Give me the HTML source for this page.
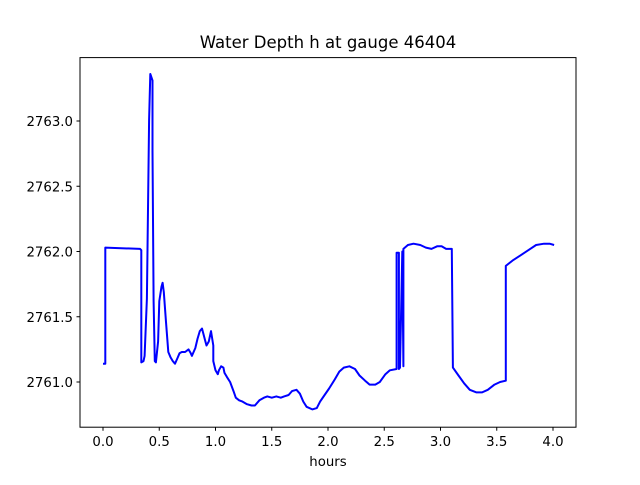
<!DOCTYPE html>
<html><head><meta charset="utf-8"><style>
body{margin:0;background:#fff}
text{font-family:"DejaVu Sans","Liberation Sans",sans-serif;fill:#000}
</style></head><body>
<svg id="chart" width="640" height="480" xmlns="http://www.w3.org/2000/svg">
<rect width="640" height="480" fill="#fff"/>
<text x="328" y="48" font-size="16.5" text-anchor="middle">Water Depth h at gauge 46404</text>
<g id="ticks"></g>
<polyline id="series" fill="none" stroke="#0000ff" stroke-width="2" stroke-linejoin="round"/>
<rect x="80" y="57.6" width="496" height="369.6" fill="none" stroke="#000" stroke-width="1"/>
<text x="328" y="466" font-size="13.3" text-anchor="middle">hours</text>
</svg>
<script>
const xTicks=[0.0,0.5,1.0,1.5,2.0,2.5,3.0,3.5,4.0];
const xTickLabels=["0.0","0.5","1.0","1.5","2.0","2.5","3.0","3.5","4.0"];
const yTicks=[2761.0,2761.5,2762.0,2762.5,2763.0];
const yTickLabels=["2761.0","2761.5","2762.0","2762.5","2763.0"];
const hours=[0.00,0.02,0.02,0.33,0.34,0.34,0.36,0.37,0.39,0.41,0.42,0.44,0.44,0.45,0.46,0.47,0.49,0.50,0.52,0.53,0.54,0.56,0.58,0.60,0.62,0.64,0.66,0.68,0.70,0.73,0.76,0.78,0.79,0.82,0.84,0.86,0.88,0.91,0.92,0.94,0.96,0.98,0.98,1.00,1.02,1.03,1.05,1.07,1.08,1.10,1.13,1.16,1.18,1.21,1.24,1.28,1.32,1.35,1.39,1.43,1.46,1.50,1.54,1.58,1.61,1.65,1.68,1.72,1.75,1.78,1.81,1.86,1.90,1.93,1.97,2.01,2.06,2.10,2.14,2.19,2.24,2.28,2.33,2.37,2.42,2.46,2.51,2.55,2.61,2.61,2.63,2.63,2.64,2.66,2.66,2.67,2.67,2.71,2.76,2.82,2.87,2.92,2.97,3.01,3.05,3.10,3.11,3.11,3.16,3.21,3.26,3.32,3.37,3.42,3.48,3.53,3.58,3.58,3.64,3.71,3.78,3.85,3.92,3.97,4.01];
const depth=[2761.14,2761.14,2762.03,2762.02,2762.01,2761.15,2761.16,2761.20,2761.64,2763.01,2763.36,2763.31,2762.77,2761.62,2761.16,2761.15,2761.31,2761.62,2761.73,2761.76,2761.69,2761.46,2761.23,2761.19,2761.16,2761.14,2761.18,2761.22,2761.23,2761.23,2761.25,2761.22,2761.20,2761.26,2761.33,2761.39,2761.41,2761.31,2761.28,2761.31,2761.39,2761.28,2761.16,2761.09,2761.06,2761.09,2761.12,2761.11,2761.07,2761.04,2761.00,2760.93,2760.88,2760.86,2760.85,2760.83,2760.82,2760.82,2760.86,2760.88,2760.89,2760.88,2760.89,2760.88,2760.89,2760.90,2760.93,2760.94,2760.91,2760.85,2760.81,2760.79,2760.80,2760.85,2760.90,2760.95,2761.02,2761.08,2761.11,2761.12,2761.10,2761.05,2761.01,2760.98,2760.98,2761.00,2761.06,2761.09,2761.10,2761.99,2761.99,2761.10,2761.11,2762.00,2762.00,2761.12,2762.02,2762.05,2762.06,2762.05,2762.03,2762.02,2762.04,2762.04,2762.02,2762.02,2761.11,2761.11,2761.05,2760.99,2760.94,2760.92,2760.92,2760.94,2760.98,2761.00,2761.01,2761.89,2761.93,2761.97,2762.01,2762.05,2762.06,2762.06,2762.05];
const X=v=>103+v*112.5, Y=v=>382-(v-2761)*130.5;
const NS="http://www.w3.org/2000/svg";
const g=document.getElementById('ticks');
function mk(tag,attrs,txt){const e=document.createElementNS(NS,tag);for(const k in attrs)e.setAttribute(k,attrs[k]);if(txt!=null)e.textContent=txt;g.appendChild(e);return e;}
xTicks.forEach((t,i)=>{
 const l=mk('line',{x1:X(t),x2:X(t),y1:427.2,y2:430.7,stroke:'#000'});
 
 
 const tx=mk('text',{x:X(t),y:446,'font-size':13.3,'text-anchor':'middle'},xTickLabels[i]);
 
 
});
yTicks.forEach((t,i)=>{
 const l=mk('line',{x1:76.5,x2:80,y1:Y(t),y2:Y(t),stroke:'#000'});
 
 
 const tx=mk('text',{x:73,y:Y(t)+5,'font-size':13.3,'text-anchor':'end'},yTickLabels[i]);
 
 
});
document.getElementById('series').setAttribute('points',hours.map((h,i)=>X(h).toFixed(1)+','+Y(depth[i]).toFixed(1)).join(' '));
</script>
</body></html>
